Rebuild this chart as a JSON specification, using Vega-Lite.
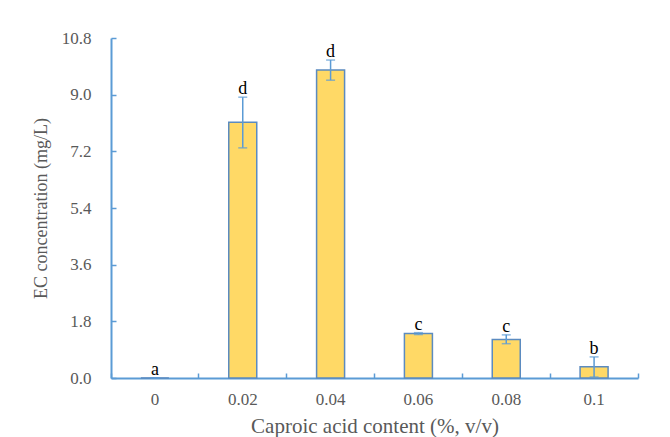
{
  "$schema": "https://vega.github.io/schema/vega-lite/v6.json",
  "autosize": "none",
  "width": 527,
  "height": 340,
  "padding": {"left": 111, "top": 38, "right": 32, "bottom": 59},
  "background": "white",
  "config": {"view": {"stroke": null}, "font": "Liberation Serif",
    "axis": {"labelFont": "Liberation Serif", "titleFont": "Liberation Serif"},
    "text": {"font": "Liberation Serif"}},
  "data": {"values": [
    {"content": "0", "ec": 0, "lo": 0, "hi": 0, "letter": "a"},
    {"content": "0.02", "ec": 8.12, "lo": 7.31, "hi": 8.92, "letter": "d"},
    {"content": "0.04", "ec": 9.78, "lo": 9.46, "hi": 10.1, "letter": "d"},
    {"content": "0.06", "ec": 1.41, "lo": 1.38, "hi": 1.44, "letter": "c"},
    {"content": "0.08", "ec": 1.22, "lo": 1.09, "hi": 1.37, "letter": "c"},
    {"content": "0.1", "ec": 0.36, "lo": 0.03, "hi": 0.67, "letter": "b"}
  ]},
  "encoding": {
    "x": {"field": "content", "type": "ordinal", "sort": null,
      "scale": {"paddingInner": 0, "paddingOuter": 0},
      "axis": {"title": "Caproic acid content (%, v/v)", "labelAngle": 0,
        "bandPosition": 1, "tickExtra": true,
        "domainColor": "#5B9BD5", "domainWidth": 2, "tickColor": "#5B9BD5", "tickWidth": 1.5, "tickSize": -5,
        "labelFont": "Liberation Serif", "labelFontSize": 17, "labelColor": "#595959", "labelPadding": 18,
        "titleFont": "Liberation Serif", "titleFontSize": 21, "titleFontWeight": "normal", "titleColor": "#595959", "titlePadding": 8}
    }
  },
  "layer": [
    {"mark": {"type": "bar", "size": 28, "fill": "#FFD966", "stroke": "#5B8BC0", "strokeWidth": 1.5},
     "encoding": {"y": {"field": "ec", "type": "quantitative",
       "scale": {"domain": [0, 10.8], "nice": false},
       "axis": {"title": "EC concentration (mg/L)", "values": [0, 1.8, 3.6, 5.4, 7.2, 9.0, 10.8], "format": ".1f", "grid": false,
         "domainColor": "#5B9BD5", "domainWidth": 2, "tickColor": "#5B9BD5", "tickWidth": 1.5, "tickSize": -5,
         "labelFont": "Liberation Serif", "labelFontSize": 17, "labelColor": "#595959", "labelPadding": 25,
         "titleFont": "Liberation Serif", "titleFontSize": 18, "titleFontWeight": "normal", "titleColor": "#595959", "titlePadding": 11}}}},
    {"mark": {"type": "rule", "color": "#5B9BD5", "strokeWidth": 1.5},
     "encoding": {"y": {"field": "lo", "type": "quantitative"}, "y2": {"field": "hi"}}},
    {"mark": {"type": "tick", "color": "#5B9BD5", "thickness": 1.5, "size": 9},
     "encoding": {"y": {"field": "lo", "type": "quantitative"}}},
    {"mark": {"type": "tick", "color": "#5B9BD5", "thickness": 1.5, "size": 9},
     "encoding": {"y": {"field": "hi", "type": "quantitative"}}},
    {"mark": {"type": "text", "font": "Liberation Serif", "fontSize": 18, "color": "#000000", "baseline": "alphabetic", "dy": -3},
     "encoding": {"y": {"field": "hi", "type": "quantitative"}, "text": {"field": "letter"}}}
  ]
}
